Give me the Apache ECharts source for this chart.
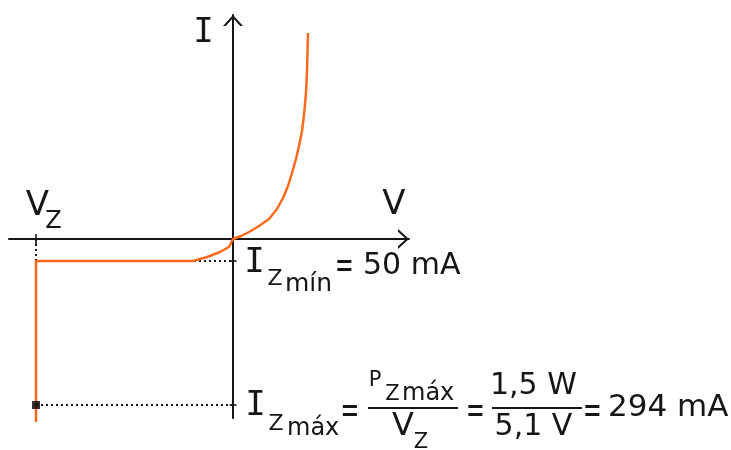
<!DOCTYPE html>
<html>
<head>
<meta charset="utf-8">
<script src="https://cdn.jsdelivr.net/npm/echarts@6/dist/echarts.min.js"></script>
<style>html,body{margin:0;padding:0;background:#fff}#c{width:731px;height:450px}</style>
</head>
<body>
<div id="c"></div>
<script>
// Schematic units (V axis and I axis, arbitrary scale)
const curveV = [-197, -197, -40, -26, -13, -4, 0, 8, 16, 26, 36, 44, 50, 55, 59, 63, 66, 69, 71, 73, 74, 75];
const curveI = [-183, -22, -22, -18, -13, -8, 0, 3, 7, 13, 20, 30, 41, 53, 66, 80, 93, 108, 124, 146, 167, 206];
const vz = -197;
const izMin = -22;
const izMax = -166;

const ORANGE = '#f96a1d';
const INK = '#161616';
const SANS = '"DejaVu Sans"';
const MONO = '"DejaVu Sans Mono"';

const chart = echarts.init(document.getElementById('c'));
const curve = curveV.map((v, i) => [v, curveI[i]]);
const arrow = 'path://M0,11 L10,0 L20,11 L17.2,11 L10,3 L2.8,11 Z';

function T(text, x, base, size, family, align, extra) {
  const o = {
    type: 'text', x: x, y: base - 0.346 * size, silent: true,
    style: {
      text: text, font: 'normal ' + size + 'px ' + family, fill: INK,
      textAlign: align, align: align, textVerticalAlign: 'middle', verticalAlign: 'middle'
    }
  };
  if (extra) Object.assign(o, extra);
  return o;
}
function EQ(cx, cy) {
  return {
    type: 'text', x: cx, y: cy, scaleX: 0.8, scaleY: 1.35, silent: true,
    style: { text: '=', font: 'normal 28px ' + SANS, fill: INK, textAlign: 'center', align: 'center', textVerticalAlign: 'middle', verticalAlign: 'middle' }
  };
}
function HL(x1, x2, y) {
  return { type: 'line', silent: true, shape: { x1: x1, y1: y, x2: x2, y2: y }, style: { stroke: INK, lineWidth: 2 } };
}

const axisCommon = {
  type: 'value',
  axisLine: { show: true, onZero: true, symbol: ['none', arrow], symbolSize: [20, 11], symbolOffset: [0, -5.5], lineStyle: { color: INK, width: 2 } },
  axisTick: { show: false }, axisLabel: { show: false }, splitLine: { show: false }
};

chart.setOption({
  animation: false,
  grid: { left: 9, right: 322, top: 15, bottom: 32 },
  xAxis: Object.assign({}, axisCommon, { min: -224, max: 176 }),
  yAxis: Object.assign({}, axisCommon, { min: -179, max: 224 }),
  series: [
    {
      type: 'line', data: [[vz, 0], [vz, izMin], [0, izMin]], symbol: 'none', silent: true, z: 1,
      lineStyle: { color: INK, width: 2, type: [2, 3] }
    },
    {
      type: 'line', data: [[vz, izMax], [0, izMax]], symbol: 'none', silent: true, z: 1,
      lineStyle: { color: INK, width: 2, type: [2, 3] }
    },
    {
      type: 'line', data: curve, symbol: 'none', smooth: false, clip: false, silent: true, z: 3,
      lineStyle: { color: ORANGE, width: 2.5 }
    },
    {
      type: 'scatter', data: [[0, izMin], [0, izMax]], symbol: 'rect', symbolSize: [7, 2], silent: true, z: 4,
      itemStyle: { color: INK }
    },
    {
      type: 'scatter', data: [[vz, 0]], symbol: 'rect', symbolSize: [2, 10], silent: true, z: 4,
      itemStyle: { color: INK }
    },
    {
      type: 'scatter', data: [[vz, izMax]], symbol: 'rect', symbolSize: 8, silent: true, z: 5,
      itemStyle: { color: '#000' }
    }
  ],
  graphic: [
    T('I', 203.5, 45, 34, MONO, 'center'),
    T('V', 394, 217, 34, SANS, 'center'),
    T('V', 37.5, 218, 34, SANS, 'center'),
    T('Z', 53.5, 230, 24, SANS, 'center'),

    T('I', 254.5, 275, 34, MONO, 'center'),
    T('Z', 275, 287, 22, SANS, 'center'),
    T('mín', 285, 293, 25, SANS, 'left'),
    EQ(344.5, 267),
    T('50 mA', 363, 277, 30, SANS, 'left'),

    T('I', 255.5, 418, 34, MONO, 'center'),
    T('Z', 276, 432, 22, SANS, 'center'),
    T('máx', 287, 437, 24, SANS, 'left'),
    EQ(350, 412),
    T('P', 375, 388, 21, SANS, 'center'),
    T('Z', 392.5, 402, 21, SANS, 'center'),
    T('máx', 402, 402, 24, SANS, 'left'),
    HL(368, 458, 408),
    T('V', 403, 438, 32, SANS, 'center'),
    T('Z', 421, 450, 21, SANS, 'center'),
    EQ(475.5, 412),
    T('1,5 W', 490, 397, 30, SANS, 'left'),
    HL(492, 582, 408),
    T('5,1 V', 494.6, 438, 30, SANS, 'left'),
    EQ(592.5, 412),
    T('294 mA', 608, 419, 31, SANS, 'left')
  ]
});
</script>
</body>
</html>
